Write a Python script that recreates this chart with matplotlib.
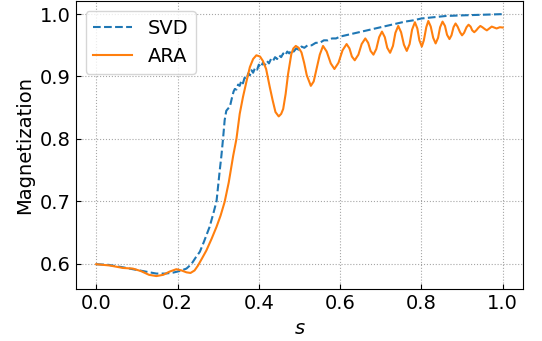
import matplotlib
matplotlib.use("Agg")
import matplotlib.pyplot as plt

# SVD reference curve (s, magnetization)
svd_s = [0.0, 0.03, 0.066, 0.09, 0.115, 0.148, 0.17, 0.189, 0.205, 0.222, 0.234, 0.245,
         0.255, 0.265, 0.279, 0.288, 0.296, 0.304, 0.308, 0.312, 0.316, 0.32, 0.325, 0.329,
         0.334, 0.338, 0.341, 0.345, 0.349, 0.353, 0.357, 0.361, 0.365, 0.37, 0.374, 0.378,
         0.382, 0.386, 0.391, 0.396, 0.40, 0.405, 0.41, 0.415, 0.42, 0.425, 0.43, 0.435,
         0.44, 0.445, 0.45, 0.455, 0.46, 0.465, 0.47, 0.475, 0.48, 0.486, 0.492, 0.498,
         0.505, 0.512, 0.52, 0.53, 0.54, 0.55, 0.56, 0.57, 0.58, 0.59, 0.60, 0.62, 0.64,
         0.66, 0.68, 0.70, 0.72, 0.74, 0.76, 0.78, 0.80, 0.83, 0.86, 0.90, 0.95, 1.0]
svd_m = [0.599, 0.598, 0.594, 0.591, 0.588, 0.584, 0.584, 0.5855, 0.588, 0.592, 0.599, 0.61,
         0.619, 0.635, 0.659, 0.68, 0.70, 0.75, 0.773, 0.80, 0.83, 0.845, 0.849, 0.852,
         0.866, 0.876, 0.88, 0.879, 0.887, 0.885, 0.893, 0.889, 0.898, 0.896, 0.905, 0.902,
         0.910, 0.906, 0.914, 0.911, 0.919, 0.915, 0.922, 0.918, 0.925, 0.921, 0.928, 0.925,
         0.931, 0.928, 0.934, 0.931, 0.937, 0.934, 0.940, 0.937, 0.942, 0.940, 0.945, 0.943,
         0.948, 0.946, 0.950, 0.950, 0.954, 0.954, 0.958, 0.958, 0.961, 0.961, 0.964, 0.967, 0.970,
         0.973, 0.976, 0.979, 0.982, 0.985, 0.988, 0.990, 0.993, 0.995, 0.997, 0.998, 0.999, 1.0]

# ARA curve (s, magnetization)
ara_s = [0.0, 0.033, 0.066, 0.09, 0.11, 0.13, 0.148, 0.165, 0.18, 0.197, 0.21, 0.222,
         0.232, 0.242, 0.2505, 0.26, 0.271, 0.284, 0.296, 0.306, 0.316, 0.326, 0.337, 0.345,
         0.353, 0.361, 0.37, 0.378, 0.386, 0.394, 0.403, 0.41, 0.418, 0.427, 0.434, 0.441,
         0.449, 0.455, 0.46, 0.466, 0.472, 0.48, 0.485, 0.491, 0.498, 0.505, 0.5115, 0.518,
         0.528, 0.535, 0.542, 0.55, 0.558, 0.567, 0.577, 0.586, 0.596, 0.606, 0.616, 0.623,
         0.629, 0.636, 0.645, 0.653, 0.662, 0.669, 0.675, 0.682, 0.689, 0.696, 0.703, 0.710,
         0.716, 0.723, 0.730, 0.736, 0.743, 0.750, 0.757, 0.764, 0.771, 0.777, 0.784, 0.790,
         0.795, 0.801, 0.806, 0.812, 0.817, 0.823, 0.829, 0.835, 0.841, 0.846, 0.852, 0.858,
         0.863, 0.869, 0.874, 0.879, 0.884, 0.889, 0.895, 0.900, 0.905, 0.911, 0.916, 0.921,
         0.925, 0.930, 0.935, 0.940, 0.945, 0.950, 0.956, 0.961, 0.967, 0.973, 0.985, 0.993, 1.0]
ara_m = [0.599, 0.597, 0.593, 0.592, 0.588, 0.582, 0.580, 0.582, 0.587, 0.591, 0.589, 0.586,
         0.585, 0.589, 0.597, 0.608, 0.621, 0.64, 0.659, 0.677, 0.699, 0.73, 0.773, 0.80,
         0.84, 0.867, 0.893, 0.915, 0.928, 0.934, 0.932, 0.925, 0.912, 0.883, 0.862, 0.843,
         0.836, 0.84, 0.848, 0.872, 0.904, 0.936, 0.945, 0.949, 0.946, 0.9386, 0.922, 0.902,
         0.885, 0.892, 0.912, 0.935, 0.949, 0.940, 0.921, 0.912, 0.922, 0.942, 0.952, 0.945,
         0.932, 0.926, 0.935, 0.952, 0.961, 0.954, 0.941, 0.935, 0.944, 0.963, 0.972, 0.963,
         0.946, 0.938, 0.949, 0.970, 0.981, 0.971, 0.951, 0.941, 0.952, 0.975, 0.987, 0.977,
         0.958, 0.948, 0.958, 0.979, 0.989, 0.980, 0.962, 0.953, 0.962, 0.979, 0.988, 0.981,
         0.967, 0.960, 0.966, 0.979, 0.985, 0.980, 0.971, 0.966, 0.970, 0.979, 0.983, 0.980,
         0.974, 0.971, 0.974, 0.978, 0.981, 0.979, 0.976, 0.974, 0.977, 0.980, 0.977, 0.979, 0.9785]

plt.rcParams["font.size"] = 14

fig = plt.figure(figsize=(5.42, 3.41), dpi=100)
ax = fig.add_axes([0.140, 0.152, 0.825, 0.845])

ax.plot(svd_s, svd_m, "--", color="#1f77b4", linewidth=1.5, label="SVD")
ax.plot(ara_s, ara_m, "-", color="#ff7f0e", linewidth=1.5, label="ARA")

ax.set_xlabel("$s$")
ax.set_ylabel("Magnetization")
ax.set_xticks([0.0, 0.2, 0.4, 0.6, 0.8, 1.0])
ax.set_yticks([0.6, 0.7, 0.8, 0.9, 1.0])
ax.tick_params(direction="in")
ax.grid(True, linestyle=":", color="gray", linewidth=0.8, alpha=0.7)
ax.legend(loc="upper left")

fig.savefig("out.png", dpi=100)
